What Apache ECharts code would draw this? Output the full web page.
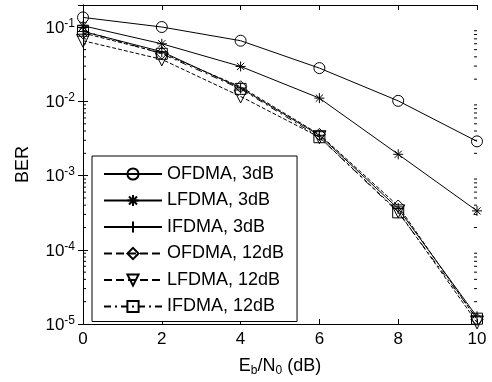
<!DOCTYPE html>
<html><head><meta charset="utf-8">
<script src="https://cdn.jsdelivr.net/npm/echarts@6/dist/echarts.min.js"></script>
<style>html,body{margin:0;padding:0;background:#fff}#c{width:492px;height:382px}</style>
</head><body><div id="c"></div>
<script>
const snr = [0, 2, 4, 6, 8, 10];
const seriesNames = ['OFDMA, 3dB', 'LFDMA, 3dB', 'IFDMA, 3dB', 'OFDMA, 12dB', 'LFDMA, 12dB', 'IFDMA, 12dB'];
const ofdma3 = [0.136, 0.101, 0.066, 0.0282, 0.0102, 0.0029];
const lfdma3 = [0.105, 0.06, 0.0297, 0.0111, 0.00194, 0.000335];
const ifdma3 = [0.088, 0.047, 0.0152, 0.0035, 0.00036, 0.0000125];
const ofdma12 = [0.084, 0.045, 0.0158, 0.0036, 0.00039, 0.0000115];
const lfdma12 = [0.066, 0.037, 0.0117, 0.0033, 0.00033, 0.0000105];
const ifdma12 = [0.09, 0.044, 0.0148, 0.0033, 0.00032, 0.0000118];
const yMin = 1e-5, yMax = 0.2;
const xTicks = [0, 2, 4, 6, 8, 10];

const FONT = 'Liberation Sans';
const chart = echarts.init(document.getElementById('c'), null, {renderer: 'canvas'});

const star = 'path://M0,-5L0,5M-5,0L5,0M-3.6,-3.6L3.6,3.6M-3.6,3.6L3.6,-3.6';
const plus = 'path://M0,-5L0,5M-5,0L5,0';
const hollow = {color: 'rgba(0,0,0,0)', borderColor: '#000', borderWidth: 1};

function mk(name, vals, symbol, size, dash, rot) {
  return {
    name: name, type: 'line', xAxisIndex: 0, yAxisIndex: 0,
    data: snr.map((x, i) => [x, vals[i]]),
    symbol: symbol, symbolSize: size, symbolRotate: rot || 0,
    showAllSymbol: true,
    lineStyle: {color: '#000', width: 1, type: dash},
    itemStyle: hollow,
    emphasis: {disabled: true},
    animation: false, z: 3
  };
}

// minor tick values on log axis
const minorVals = [];
for (let e = -5; e <= -1; e++) {
  for (let m = 2; m <= 9; m++) {
    const v = m * Math.pow(10, e);
    if (v < yMax) minorVals.push(v);
  }
}

function ylab(v) {
  const e = Math.round(Math.log10(v));
  if (Math.abs(v - Math.pow(10, e)) / v > 1e-6) return '';
  return '{b|10}{s|' + e + '}';
}

const option = {
  animation: false,
  textStyle: {fontFamily: FONT, color: '#000'},
  grid: {left: 83, right: 15, top: 5, bottom: 56, containLabel: false},
  xAxis: [{
    type: 'value', min: 0, max: 10, interval: 2, position: 'bottom',
    axisLine: {show: true, lineStyle: {color: '#000', width: 1}},
    axisTick: {inside: true, length: 5, lineStyle: {color: '#000'}},
    axisLabel: {color: '#000', fontSize: 17, fontFamily: FONT, margin: 7,
      formatter: v => xTicks.indexOf(v) >= 0 ? String(v) : ''},
    splitLine: {show: false},
    name: '{a|E}{u|b}{a|/N}{u|0}{a| (dB)}',
    nameLocation: 'middle', nameGap: 33,
    nameTextStyle: {rich: {
      a: {fontSize: 18, fontFamily: FONT, color: '#000', verticalAlign: 'top', lineHeight: 20},
      u: {fontSize: 12, fontFamily: FONT, color: '#000', verticalAlign: 'bottom', lineHeight: 12, padding: [10, 0, 0, 0]}
    }}
  }, {
    type: 'value', min: 0, max: 10, interval: 2, position: 'top',
    axisLine: {show: true, lineStyle: {color: '#000', width: 1}},
    axisTick: {inside: true, length: 5, lineStyle: {color: '#000'}},
    axisLabel: {show: false}, splitLine: {show: false}
  }],
  yAxis: [{
    type: 'log', logBase: 10, min: yMin, max: yMax, position: 'left',
    axisLine: {show: true, lineStyle: {color: '#000', width: 1}},
    axisTick: {inside: true, length: 5, lineStyle: {color: '#000'}},
    axisLabel: {color: '#000', margin: 8, formatter: ylab, showMaxLabel: false,
      rich: {
        b: {fontSize: 17, fontFamily: FONT, color: '#000', verticalAlign: 'bottom', lineHeight: 19},
        s: {fontSize: 12, fontFamily: FONT, color: '#000', verticalAlign: 'top', lineHeight: 12, padding: [0, 0, 10, 0]}
      }},
    splitLine: {show: false},
    name: 'BER', nameLocation: 'middle', nameGap: 51, nameRotate: 90,
    nameTextStyle: {fontSize: 18, fontFamily: FONT, color: '#000'}
  }, {
    type: 'log', logBase: 10, min: yMin, max: yMax, position: 'right',
    axisLine: {show: true, lineStyle: {color: '#000', width: 1}},
    axisTick: {inside: true, length: 5, lineStyle: {color: '#000'}},
    axisLabel: {show: false}, splitLine: {show: false}
  }],
  legend: {
    orient: 'vertical', left: 92, top: 156,
    data: seriesNames,
    itemWidth: 58, itemHeight: 14, itemGap: 6.5,
    padding: [8, 13, 5, 11],
    backgroundColor: '#fff', borderColor: '#000', borderWidth: 1, borderRadius: 0,
    textStyle: {fontSize: 18, fontFamily: FONT, color: '#000', lineHeight: 20},
    selectedMode: false
  },
  series: [
    mk(seriesNames[0], ofdma3, 'circle', 11, 'solid'),
    mk(seriesNames[1], lfdma3, star, 10, 'solid'),
    mk(seriesNames[2], ifdma3, plus, 11, 'solid'),
    mk(seriesNames[3], ofdma12, 'diamond', 12, 'dashed'),
    mk(seriesNames[4], lfdma12, 'triangle', 13, 'dashed', 180),
    mk(seriesNames[5], ifdma12, 'rect', 11, [7, 4, 2, 4]),
    {
      type: 'custom', xAxisIndex: 0, yAxisIndex: 0, silent: true, animation: false, z: 2,
      data: minorVals.map(v => [0, v]),
      renderItem: function (params, api) {
        const cs = params.coordSys;
        const y = api.coord([0, api.value(1)])[1];
        return {type: 'group', children: [
          {type: 'line', shape: {x1: cs.x, y1: y, x2: cs.x + 3, y2: y}, style: {stroke: '#000', lineWidth: 1}},
          {type: 'line', shape: {x1: cs.x + cs.width, y1: y, x2: cs.x + cs.width - 3, y2: y}, style: {stroke: '#000', lineWidth: 1}}
        ]};
      }
    }
  ]
};
chart.setOption(option);
</script>
</body></html>
